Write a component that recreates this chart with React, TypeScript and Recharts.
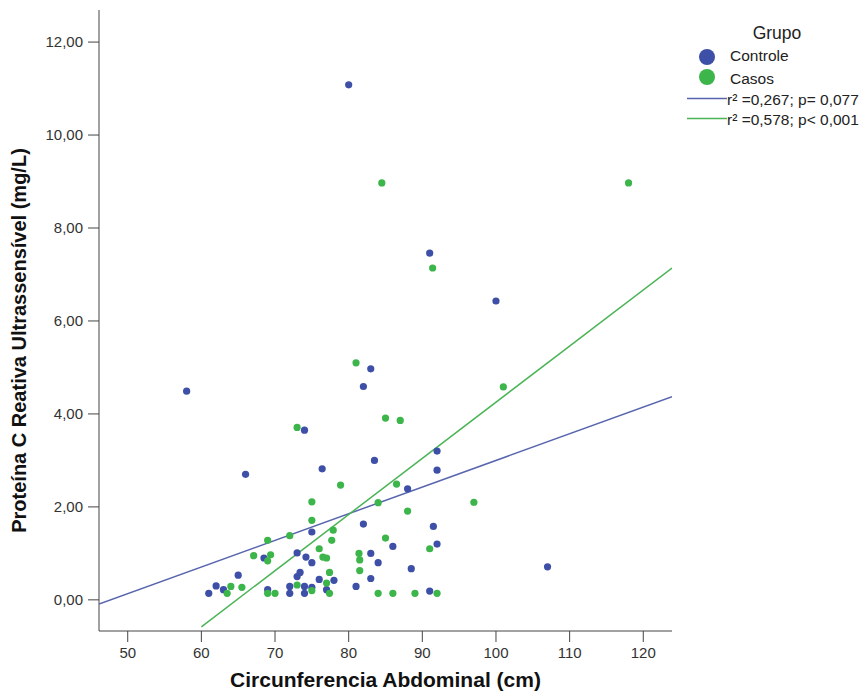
import { ScatterChart, Scatter, XAxis, YAxis, Label } from 'recharts';

// Circunferencia abdominal (cm) x PCR-us (mg/L)
const controle = [
  { x: 80, y: 11.08 }, { x: 58, y: 4.49 }, { x: 91, y: 7.46 }, { x: 100, y: 6.43 },
  { x: 83, y: 4.97 }, { x: 82, y: 4.59 }, { x: 74, y: 3.65 }, { x: 66, y: 2.7 },
  { x: 76.4, y: 2.82 }, { x: 83.5, y: 3.0 }, { x: 92, y: 3.2 }, { x: 92, y: 2.79 },
  { x: 88, y: 2.39 }, { x: 75, y: 1.46 }, { x: 82, y: 1.63 }, { x: 91.5, y: 1.58 },
  { x: 86, y: 1.15 }, { x: 92, y: 1.2 }, { x: 83, y: 1.0 }, { x: 84, y: 0.8 },
  { x: 88.5, y: 0.67 }, { x: 83, y: 0.46 }, { x: 81, y: 0.29 }, { x: 91, y: 0.19 },
  { x: 107, y: 0.71 }, { x: 68.5, y: 0.9 }, { x: 73, y: 1.01 }, { x: 74.2, y: 0.92 },
  { x: 75, y: 0.8 }, { x: 76, y: 0.44 }, { x: 78, y: 0.42 }, { x: 77, y: 0.22 },
  { x: 65, y: 0.53 }, { x: 61, y: 0.14 }, { x: 62, y: 0.3 }, { x: 63, y: 0.22 },
  { x: 69, y: 0.22 }, { x: 72, y: 0.29 }, { x: 72, y: 0.14 }, { x: 73, y: 0.5 },
  { x: 73.4, y: 0.59 }, { x: 74, y: 0.29 }, { x: 74, y: 0.14 }, { x: 75, y: 0.27 },
];

const casos = [
  { x: 84.5, y: 8.97 }, { x: 118, y: 8.97 }, { x: 91.4, y: 7.14 }, { x: 101, y: 4.58 },
  { x: 81, y: 5.1 }, { x: 85, y: 3.91 }, { x: 87, y: 3.86 }, { x: 73, y: 3.71 },
  { x: 78.9, y: 2.47 }, { x: 86.5, y: 2.49 }, { x: 84, y: 2.09 }, { x: 97, y: 2.1 },
  { x: 88, y: 1.91 }, { x: 75, y: 2.11 }, { x: 75, y: 1.71 }, { x: 77.9, y: 1.5 },
  { x: 77.7, y: 1.28 }, { x: 72, y: 1.38 }, { x: 69, y: 1.28 }, { x: 85, y: 1.33 },
  { x: 91, y: 1.1 }, { x: 81.4, y: 1.0 }, { x: 81.5, y: 0.86 }, { x: 81.5, y: 0.63 },
  { x: 67.1, y: 0.95 }, { x: 69.4, y: 0.97 }, { x: 69, y: 0.84 }, { x: 76, y: 1.1 },
  { x: 76.5, y: 0.92 }, { x: 77, y: 0.9 }, { x: 77.4, y: 0.59 }, { x: 77, y: 0.36 },
  { x: 77.4, y: 0.14 }, { x: 64, y: 0.29 }, { x: 63.5, y: 0.14 }, { x: 65.5, y: 0.27 },
  { x: 69, y: 0.14 }, { x: 70, y: 0.14 }, { x: 73, y: 0.32 }, { x: 75, y: 0.2 },
  { x: 84, y: 0.14 }, { x: 86, y: 0.14 }, { x: 89, y: 0.14 }, { x: 92, y: 0.14 },
];

// fitted lines (end points)
const controleFit = [{ x: 46.1, y: -0.09 }, { x: 123.9, y: 4.37 }];
const casosFit = [{ x: 60, y: -0.58 }, { x: 123.9, y: 7.14 }];

const xTicks = [50, 60, 70, 80, 90, 100, 110, 120];
const yTicks = [0, 2, 4, 6, 8, 10, 12];

const BLUE = '#3d4fa6';
const GREEN = '#3cb54a';
const BLUE_LINE = '#5865ad';
const GREEN_LINE = '#4bb456';
const FONT = '"Liberation Sans", Arial, sans-serif';

const fmt = (v: number) => v.toFixed(2).replace('.', ',');

const noDot = () => <g />;

function LegendBox() {
  const txt = { fontFamily: FONT, fontSize: 15.5, fill: '#222' };
  return (
    <svg width={185} height={135} style={{ position: 'absolute', left: 680, top: 0 }}>
      <text x={97} y={33} textAnchor="middle" dominantBaseline="central" style={{ ...txt, fontSize: 17.5 }}>Grupo</text>
      <circle cx={27} cy={57} r={8} fill={BLUE} />
      <text x={50} y={55} dominantBaseline="central" style={txt}>Controle</text>
      <circle cx={27} cy={77} r={8} fill={GREEN} />
      <text x={50} y={78} dominantBaseline="central" style={txt}>Casos</text>
      <line x1={7} x2={47} y1={98.5} y2={98.5} stroke={BLUE_LINE} strokeWidth={1.5} />
      <text x={47} y={99} dominantBaseline="central" style={txt}>r² =0,267; p= 0,077</text>
      <line x1={7} x2={47} y1={118.5} y2={118.5} stroke={GREEN_LINE} strokeWidth={1.5} />
      <text x={47} y={119} dominantBaseline="central" style={txt}>r² =0,578; p&lt; 0,001</text>
    </svg>
  );
}

export default function App() {
  return (
    <div style={{ position: 'absolute', left: 0, top: 0, width: 865, height: 696, background: '#fff' }}>
      <ScatterChart width={865} height={696} margin={{ top: 10, right: 193, bottom: 0, left: 0 }}>
        <XAxis
          type="number"
          dataKey="x"
          domain={[46.1, 123.9]}
          ticks={xTicks}
          allowDataOverflow
          height={65}
          tickSize={11}
          tickMargin={5}
          stroke="#444"
          tick={{ fill: '#333', fontSize: 15, fontFamily: FONT }}
        >
          <Label
            value="Circunferencia Abdominal (cm)"
            position="insideBottom"
            offset={9}
            style={{ fontFamily: FONT, fontSize: 21, fontWeight: 'bold', fill: '#111' }}
          />
        </XAxis>
        <YAxis
          type="number"
          dataKey="y"
          domain={[-0.67, 12.69]}
          ticks={yTicks}
          allowDataOverflow
          width={99}
          tickSize={11}
          tickMargin={5}
          stroke="#444"
          tickFormatter={fmt}
          tick={{ fill: '#333', fontSize: 15, fontFamily: FONT }}
        >
          <Label
            value="Proteína C Reativa Ultrassensível (mg/L)"
            angle={-90}
            position="insideLeft"
            offset={19}
            dy={20}
            style={{ fontFamily: FONT, fontSize: 20, fontWeight: 'bold', fill: '#111', textAnchor: 'middle' }}
          />
        </YAxis>
        <Scatter data={controleFit} line={{ stroke: BLUE_LINE, strokeWidth: 1.5 }} shape={noDot} isAnimationActive={false} />
        <Scatter data={casosFit} line={{ stroke: GREEN_LINE, strokeWidth: 1.5 }} shape={noDot} isAnimationActive={false} />
        <Scatter data={controle} fill={BLUE} shape={(p: any) => <circle cx={p.cx} cy={p.cy} r={3.6} fill={BLUE} />} isAnimationActive={false} />
        <Scatter data={casos} fill={GREEN} shape={(p: any) => <circle cx={p.cx} cy={p.cy} r={3.6} fill={GREEN} />} isAnimationActive={false} />
      </ScatterChart>
      <LegendBox />
    </div>
  );
}
